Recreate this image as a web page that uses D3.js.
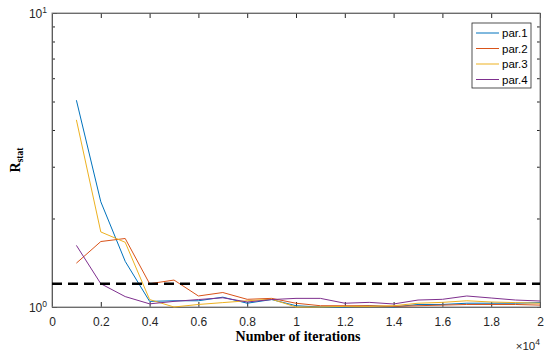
<!DOCTYPE html>
<html lang="en">
<head>
<meta charset="utf-8">
<title>Rstat vs iterations</title>
<script src="https://d3js.org/d3.v7.min.js"></script>
<style>
  body { margin: 0; background: #fff; }
  svg { display: block; font-family: "Liberation Sans", Arial, sans-serif; }
</style>
</head>
<body>
<script>
// iterations (x 10^4)
var iters = [0.1,0.2,0.3,0.4,0.5,0.6,0.7,0.8,0.9,1.0,1.1,1.2,1.3,1.4,1.5,1.6,1.7,1.8,1.9,2.0];

var par1 = [5.05,2.28,1.43,1.045,1.05,1.05,1.08,1.03,1.06,1.01,1.0,1.0,1.01,1.0,1.02,1.02,1.03,1.03,1.03,1.035];
var par2 = [1.41,1.67,1.71,1.2,1.235,1.09,1.12,1.062,1.07,1.03,1.01,1.01,1.01,1.005,1.01,1.015,1.02,1.02,1.02,1.015];
var par3 = [4.33,1.80,1.66,1.06,1.0,1.02,1.035,1.05,1.063,1.0,1.0,1.005,1.005,1.01,1.03,1.037,1.05,1.04,1.035,1.03];
var par4 = [1.62,1.2,1.085,1.025,1.045,1.06,1.075,1.04,1.06,1.07,1.07,1.03,1.037,1.024,1.056,1.062,1.09,1.073,1.056,1.048];

var seriesNames = ["par.1","par.2","par.3","par.4"];
var seriesColors = ["#0072BD","#D95319","#EDB120","#7E2F8E"];
var threshold = 1.2;

var xTicks = [0,0.2,0.4,0.6,0.8,1,1.2,1.4,1.6,1.8,2];

var width = 550, height = 354;
var margin = {left: 52, top: 13, right: 10, bottom: 47};

var svg = d3.select("body").append("svg")
  .attr("width", width).attr("height", height);

var x = d3.scaleLinear().domain([0, 2]).range([margin.left, width - margin.right]);
var y = d3.scaleLog().domain([1, 10]).range([height - margin.bottom, margin.top]);

var axisColor = "#262626";
var tickLen = 5;

// bottom axis (ticks inward)
var gx = svg.append("g")
  .attr("transform", "translate(0," + y(1) + ")")
  .call(d3.axisBottom(x).tickValues(xTicks).tickSize(-tickLen).tickPadding(10)
    .tickFormat(function(d) { return d3.format("~g")(d); }));
gx.selectAll("text").attr("font-size", 12).attr("fill", axisColor);

// top axis, ticks only
svg.append("g")
  .attr("transform", "translate(0," + y(10) + ")")
  .call(d3.axisTop(x).tickValues(xTicks).tickSize(-tickLen).tickFormat(""));

// left axis (log with minor ticks)
var minor = d3.range(2, 10);
svg.append("g")
  .attr("transform", "translate(" + x(0) + ",0)")
  .call(d3.axisLeft(y).tickValues(minor).tickSize(-3).tickFormat(""));
svg.append("g")
  .attr("transform", "translate(" + x(0) + ",0)")
  .call(d3.axisLeft(y).tickValues([1, 10]).tickSize(-tickLen).tickFormat(""));
svg.append("g")
  .attr("transform", "translate(" + x(2) + ",0)")
  .call(d3.axisRight(y).tickValues(minor).tickSize(-3).tickFormat(""));

svg.selectAll(".domain").attr("stroke", axisColor).attr("stroke-opacity", 0.8);
svg.selectAll(".tick line").attr("stroke", axisColor);

// box
svg.append("rect")
  .attr("x", x(0)).attr("y", y(10))
  .attr("width", x(2) - x(0)).attr("height", y(1) - y(10))
  .attr("fill", "none").attr("stroke", "#8a8a8a").attr("stroke-width", 1);

// y tick labels 10^0 and 10^1
[[1, "0"], [10, "1"]].forEach(function(t) {
  var lab = svg.append("text")
    .attr("x", x(0) - 5).attr("y", y(t[0]) + 5)
    .attr("text-anchor", "end").attr("font-size", 12).attr("fill", axisColor);
  lab.append("tspan").text("10");
  lab.append("tspan").attr("dy", -5).attr("font-size", 8.5).text(t[1]);
});

// exponent label
var ex = svg.append("text")
  .attr("x", width - 10).attr("y", 350)
  .attr("text-anchor", "end").attr("font-size", 11.5).attr("fill", axisColor);
ex.append("tspan").text("\u00d710");
ex.append("tspan").attr("dy", -5).attr("font-size", 8.5).text("4");

// axis titles
svg.append("text")
  .attr("x", (x(0) + x(2)) / 2 + 2).attr("y", 341)
  .attr("text-anchor", "middle")
  .attr("font-family", "'Liberation Serif', 'Times New Roman', serif")
  .attr("font-weight", "bold").attr("font-size", 14)
  .text("Number of iterations");

var yl = svg.append("text")
  .attr("transform", "translate(20," + ((y(1) + y(10)) / 2) + ") rotate(-90)")
  .attr("text-anchor", "middle")
  .attr("font-family", "'Liberation Serif', 'Times New Roman', serif")
  .attr("font-weight", "bold").attr("font-size", 14);
yl.append("tspan").text("R");
yl.append("tspan").attr("dy", 3).attr("font-size", 9.5).text("stat");

// series lines
var allSeries = [par1, par2, par3, par4];
var line = d3.line()
  .x(function(d, i) { return x(iters[i]); })
  .y(function(d) { return y(d); });

allSeries.forEach(function(s, k) {
  svg.append("path")
    .datum(s)
    .attr("fill", "none")
    .attr("stroke", seriesColors[k])
    .attr("stroke-width", 1)
    .attr("d", line);
});

// threshold dashed line
svg.append("line")
  .attr("x1", x(0)).attr("x2", x(2))
  .attr("y1", y(threshold)).attr("y2", y(threshold))
  .attr("stroke", "#000").attr("stroke-width", 2.5)
  .attr("stroke-dasharray", "10,6");

// legend
var lg = svg.append("g").attr("transform", "translate(472,23)");
lg.append("rect")
  .attr("width", 59).attr("height", 65)
  .attr("fill", "#fff").attr("stroke", "#262626").attr("stroke-width", 0.8);
seriesNames.forEach(function(n, k) {
  var yy = 10 + k * 15.5;
  lg.append("line")
    .attr("x1", 4).attr("x2", 27).attr("y1", yy).attr("y2", yy)
    .attr("stroke", seriesColors[k]).attr("stroke-width", 1);
  lg.append("text")
    .attr("x", 30).attr("y", yy + 4)
    .attr("font-size", 11.5).attr("fill", "#000")
    .text(n);
});
</script>
</body>
</html>
